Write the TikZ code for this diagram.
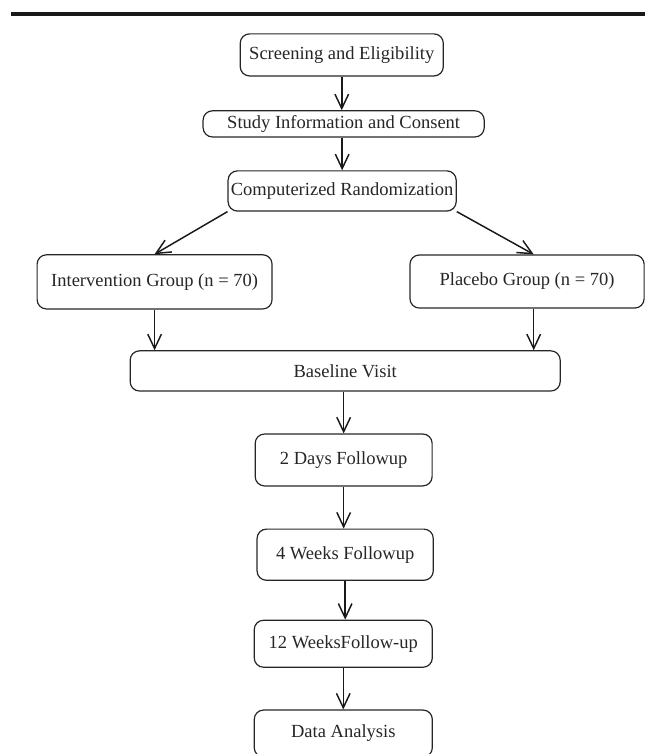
\documentclass[tikz,border=0pt]{standalone}
\usepackage{fontspec}
\setmainfont{Liberation Serif}
\usetikzlibrary{arrows.meta}

\begin{document}
\begin{tikzpicture}[every node/.style={font=\fontsize{13.9}{16}\selectfont, text=black!85},
	stage/.style={draw=black!85, line width=0.9pt, rounded corners=7pt, inner sep=0pt, align=center},
	flow/.style={->, line width=1.1pt, black!90},
	>={Straight Barb[length=3.8mm, width=3.6mm, line width=1.1pt]}]
	\useasboundingbox (0,0) rectangle (17.03,19.9);
	\draw[line width=2.4pt, black!90] (0.29,19.53) -- (17.03,19.53);
	\node[stage, minimum width=5.36cm, minimum height=1.11cm] (screen) at (9.02,18.45) {Screening and Eligibility};
	\node[stage, minimum width=7.42cm, minimum height=0.69cm] (info) at (9.07,16.63) {Study Information and Consent};
	\node[stage, minimum width=6.02cm, minimum height=1.06cm] (random) at (9.03,14.86) {Computerized Randomization};
	\node[stage, minimum width=6.20cm, minimum height=1.43cm] (interv) at (4.08,12.46) {Intervention Group (n = 70)};
	\node[stage, minimum width=6.18cm, minimum height=1.40cm] (placebo) at (13.91,12.47) {Placebo Group (n = 70)};
	\node[stage, minimum width=11.35cm, minimum height=1.06cm] (base) at (9.11,10.11) {Baseline Visit};
	\node[stage, minimum width=4.67cm, minimum height=1.37cm] (days2) at (9.07,7.76) {2 Days Followup};
	\node[stage, minimum width=4.65cm, minimum height=1.35cm] (weeks4) at (9.11,5.26) {4 Weeks Followup};
	\node[stage, minimum width=4.70cm, minimum height=1.24cm] (weeks12) at (9.06,2.91) {12 WeeksFollow-up};
	\node[stage, minimum width=4.70cm, minimum height=1.24cm] (analysis) at (9.06,0.54) {Data Analysis};
	\draw[flow] (screen.south) -- (screen.south |- info.north);
	\draw[flow] (info.south -| random.north) -- (random.north);
	\draw[flow] (random.south west) -- (interv.north);
	\draw[flow] (random.south east) -- ([xshift=5pt]placebo.north);
	\draw[flow] (interv.south) -- (interv.south |- base.north);
	\draw[flow] ([xshift=5pt]placebo.south) -- ([xshift=5pt]placebo.south |- base.north);
	\draw[flow] (days2.north |- base.south) -- (days2.north);
	\draw[flow] (days2.south) -- (days2.south |- weeks4.north);
	\draw[flow] (weeks4.south) -- (weeks4.south |- weeks12.north);
	\draw[flow] (weeks12.south) -- (weeks12.south |- analysis.north);
\end{tikzpicture}
\end{document}
